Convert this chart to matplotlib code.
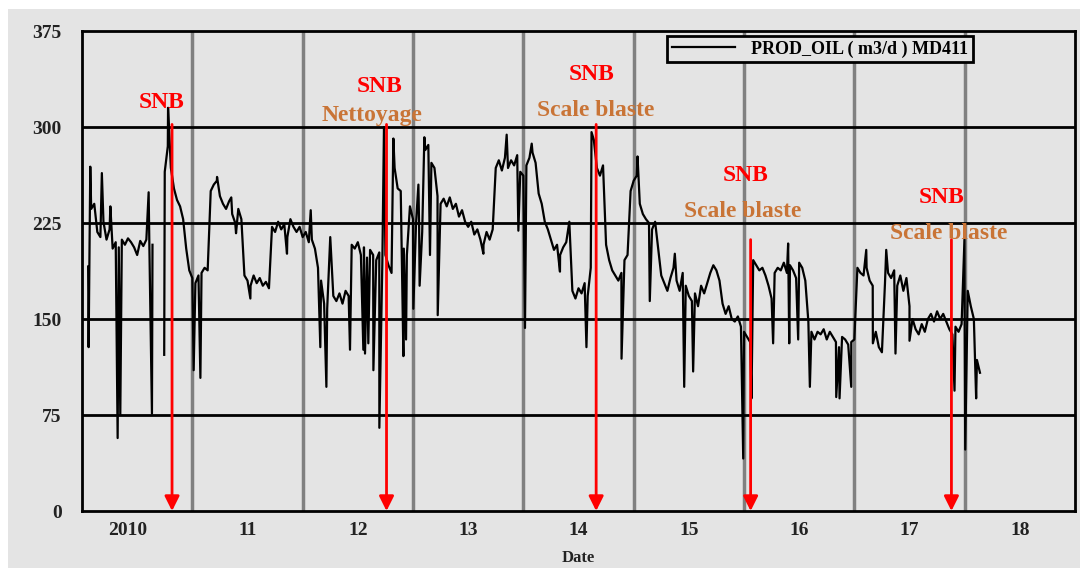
import numpy as np
import matplotlib
matplotlib.use("Agg")
import matplotlib.pyplot as plt
from matplotlib.patches import Rectangle

nan = np.nan

# production readings, ~10 day steps (36 per year), years from 2010
y2010 = [nan, nan, 191, 236, 240, 218, 214, 226, 212, 220, 205, 210, 206, 212, 208, 213, 210, 206,
         200, 211, 207, 212, 204, 208, nan, nan, nan, 265, 285, 268, 252, 243, 238, 228, 205, 188]
y2011 = [182, 178, 184, 186, 190, 188, 250, 255, 258, 246, 240, 236, 242, 232, 225, 236, 228, 184,
         180, 176, 184, 178, 182, 176, 179, 174, 222, 218, 226, 220, 224, 214, 228, 222, 218, 222]
y2012 = [214, 218, 210, 212, 205, 190, 180, 162, 158, 214, 168, 164, 170, 162, 172, 168, 208, 205,
         210, 200, 206, 198, 204, 200, 196, 202, 195, 200, 192, 186, 268, 252, 250, 205, 200, 238]
y2013 = [228, 225, 222, 218, 282, 286, 272, 268, 246, 240, 244, 238, 245, 236, 240, 230, 235, 226,
         222, 226, 216, 220, 212, 208, 218, 212, 220, 268, 274, 266, 276, 268, 274, 270, 278, 265]
y2014 = [262, 270, 276, 280, 272, 248, 240, 226, 220, 212, 204, 208, 200, 206, 210, 226, 172, 166,
         174, 170, 178, 168, 190, 290, 268, 262, 270, 208, 196, 188, 184, 180, 186, 196, 200, 250]
y2015 = [258, 262, 240, 232, 228, 225, 220, 226, 205, 184, 178, 172, 182, 190, 180, 172, 186, 176,
         168, 164, 170, 160, 176, 170, 178, 186, 192, 188, 180, 162, 154, 160, 150, 148, 152, 144]
y2016 = [140, 136, 132, 196, 192, 188, 190, 184, 176, 166, 186, 190, 188, 194, 186, 192, 188, 182,
         194, 190, 180, 148, 140, 134, 140, 138, 142, 134, 140, 136, 132, 128, 136, 134, 130, 132]
y2017 = [134, 190, 186, 184, 190, 180, 176, 140, 128, 124, 178, 186, 182, 188, 176, 184, 172, 182,
         160, 150, 142, 138, 146, 140, 150, 154, 148, 156, 150, 154, 148, 142, 138, 144, 140, 146]
y2018 = [150, 172, 160, 150, 118, 108]

# short spikes / drops (years since 2010, value)
spike_t = [0.06, 0.075, 0.18, 0.257, 0.323, 0.347, 0.604, 0.634, 0.745, 0.78, 1.012, 1.073, 1.224,
           1.353, 1.396, 1.526, 1.858, 2.073, 2.16, 2.215,
           2.429, 2.55, 2.565, 2.595, 2.641, 2.695, 2.737, 2.822, 2.913, 2.937, 3.003, 3.049, 3.06,
           3.103, 3.154, 3.224, 3.638, 3.849, 3.955, 4.015, 4.076, 4.332,
           4.572, 4.618, 4.89, 5.035, 5.146, 5.373, 5.458, 5.539, 5.993, 6.068, 6.264, 6.4, 6.41,
           6.491, 6.597,
           6.836, 6.866, 6.972, 7.108, 7.168, 7.289, 7.373, 7.5, 7.908, 7.998, 8.005, 8.104]
spike_v = [128, 269, 264, 238, 57, 75, 249, 76, 122, 315, 110, 104, 261, 245, 217, 166, 201, 235,
           128, 97,
           126, 126, 123, 131, 110, 65, 300, 291, 121, 134, 158, 255, 176, 292, 200, 153, 201, 294,
           219, 143, 287, 187,
           128, 296, 119, 277, 164, 201, 97, 109, 41, 88, 131, 209, 131, 134, 97,
           89, 88, 97, 204, 131, 204, 123, 133, 94, 212, 48, 88]

# SNB interventions
snb_t = [0.816, 2.76, 4.66, 6.06, 7.88]
snb_top = [302, 302, 302, 212, 212]
snb_note = ["", "Nettoyage", "Scale blaste", "Scale blaste", "Scale blaste"]

year_labels = ["2010", "11", "12", "13", "14", "15", "16", "17", "18"]
y_ticks = [0, 75, 150, 225, 300, 375]

# label placement (years, value)
snb_xy = [(0.725, 319), (2.693, 332), (4.615, 341), (6.011, 262), (7.788, 245)]
note_xy = [None, (2.629, 309), (4.66, 313), (5.984, 234), (7.851, 217)]

base = np.array(y2010 + y2011 + y2012 + y2013 + y2014 + y2015 + y2016 + y2017 + y2018, dtype=float)
t_base = np.arange(len(base)) / 36.0
t_all = np.concatenate([t_base, spike_t])
v_all = np.concatenate([base, spike_v])
order = np.argsort(t_all, kind="stable")
t_all = t_all[order]
v_all = v_all[order]

bg = "#e4e4e4"
serif = ["Liberation Serif", "DejaVu Serif"]

fig = plt.figure(figsize=(10.8, 5.68), dpi=100)
fig.patch.set_facecolor("white")
fig.patches.append(Rectangle((8 / 1080, 0), 1, 1 - 9 / 568, transform=fig.transFigure,
                             facecolor=bg, edgecolor="none", zorder=-10))
ax = fig.add_axes([82 / 1080, 1 - 511 / 568, 993 / 1080, 480 / 568])
ax.set_facecolor(bg)

for k in range(1, 9):
    ax.axvline(k, color="#808080", lw=2.5, zorder=1)
for yv in [75, 150, 225, 300]:
    ax.axhline(yv, color="black", lw=2, zorder=1)

ax.plot(t_all, v_all, color="black", lw=1.6, label="PROD_OIL ( m3/d ) MD411", zorder=3)

for i in range(len(snb_t)):
    ax.annotate("", xy=(snb_t[i], 0), xytext=(snb_t[i], snb_top[i]),
                arrowprops=dict(arrowstyle="-|>", color="red", lw=2, mutation_scale=22,
                                shrinkA=0, shrinkB=0), zorder=4)
    ax.text(snb_xy[i][0], snb_xy[i][1], "SNB", color="red", fontsize=17, fontweight="bold",
            family=serif, ha="center", va="center", zorder=5)
    if snb_note[i]:
        ax.text(note_xy[i][0], note_xy[i][1], snb_note[i], color="#c97436", fontsize=17,
                fontweight="bold", family=serif, ha="center", va="center", zorder=5)

ax.set_xlim(0, 9)
ax.set_ylim(0, 375)
ax.set_yticks(y_ticks)
ax.set_xticks([0.41] + [k + 0.5 for k in range(1, 9)])
ax.set_xticklabels(year_labels)
ax.tick_params(length=0, labelsize=14, labelcolor="#222222")
ax.tick_params(axis="y", pad=14.5)
ax.tick_params(axis="x", pad=8)
for lab in ax.get_xticklabels() + ax.get_yticklabels():
    lab.set_family(serif)
    lab.set_fontweight("bold")
for s in ax.spines.values():
    s.set_linewidth(2)
    s.set_color("black")

ax.set_xlabel("Date", fontsize=12, fontweight="bold", family=serif, color="#222222", labelpad=8)

leg = ax.legend(loc="upper right", bbox_to_anchor=(0.897, 0.99), frameon=True,
                fancybox=False, borderpad=0.25, borderaxespad=0, handlelength=3.5,
                handletextpad=0.9, prop={"family": serif, "weight": "bold", "size": 13})
leg.get_frame().set_edgecolor("black")
leg.get_frame().set_linewidth(2)
leg.get_frame().set_facecolor(bg)
leg.get_frame().set_alpha(1)

fig.savefig("out.png", dpi=100, facecolor=fig.get_facecolor())
